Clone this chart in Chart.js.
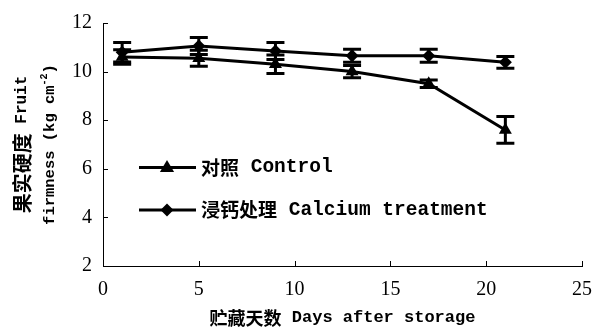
<!DOCTYPE html>
<html>
<head>
<meta charset="utf-8">
<script src="https://cdn.jsdelivr.net/npm/chart.js@4/dist/chart.umd.min.js"></script>
<style>
  html, body { margin: 0; padding: 0; background: #fff; }
  #wrap { width: 604px; height: 327px; position: relative; }
</style>
</head>
<body>
<div id="wrap"><canvas id="c" width="604" height="327"></canvas></div>
<script>
// Storage days at which firmness was measured
const days = [1, 5, 9, 13, 17, 21];

// Fruit firmness (kg cm^-2) and standard errors
const controlFirmness = [10.6, 10.55, 10.3, 10.0, 9.5, 7.6];
const controlError    = [0.3, 0.33, 0.38, 0.25, 0.15, 0.55];
const calciumFirmness = [10.8, 11.05, 10.85, 10.65, 10.65, 10.38];
const calciumError    = [0.4, 0.35, 0.35, 0.27, 0.27, 0.24];

// Axis ticks
const xTicks = [0, 5, 10, 15, 20, 25];
const yTicks = [2, 4, 6, 8, 10, 12];

// Labels
const seriesNames = [
  [{ t: '对照', cjk: true }, { t: ' Control' }],
  [{ t: '浸钙处理', cjk: true }, { t: ' Calcium treatment' }]
];
const xTitle = [{ t: '贮藏天数', cjk: true }, { t: ' Days after storage' }];
const yTitleLine1 = [{ t: '果实硬度', cjk: true }, { t: ' Fruit' }];
const yTitleLine2 = [{ t: 'firmness (kg cm' }, { t: '-2', sup: true }, { t: ')' }];

const INK = '#000000';
const MONO = '"Liberation Mono", "DejaVu Sans Mono", monospace';
const CJK = '"Noto Sans CJK SC", sans-serif';

function toPoints(ys) { return days.map((d, i) => ({ x: d, y: ys[i] })); }

// Draws a sequence of text runs with separate fonts, starting or centred at x
function drawRuns(ctx, runs, x, y, sizes, center) {
  const latW = sizes.latWeight || 'bold';
  const fontOf = r => r.sup ? (latW + ' ' + sizes.sup + 'px ' + MONO)
    : r.cjk ? ((sizes.cjkWeight || 'normal') + ' ' + sizes.cjk + 'px ' + CJK)
    : (latW + ' ' + sizes.lat + 'px ' + MONO);
  let total = 0;
  runs.forEach(r => { ctx.font = fontOf(r); total += ctx.measureText(r.t).width; });
  let cx = center ? x - total / 2 : x;
  ctx.textBaseline = 'middle';
  ctx.textAlign = 'left';
  runs.forEach(r => {
    ctx.font = fontOf(r);
    ctx.fillText(r.t, cx, y + (r.sup ? -6 : 0));
    cx += ctx.measureText(r.t).width;
  });
}

function drawMarker(ctx, style, x, y, r) {
  ctx.beginPath();
  if (style === 'triangle') {
    ctx.moveTo(x, y - r);
    ctx.lineTo(x + r * 0.95, y + r * 0.6);
    ctx.lineTo(x - r * 0.95, y + r * 0.6);
  } else {
    ctx.moveTo(x, y - r);
    ctx.lineTo(x + r, y);
    ctx.lineTo(x, y + r);
    ctx.lineTo(x - r, y);
  }
  ctx.closePath();
  ctx.fill();
}

const errorBars = {
  id: 'errorBars',
  beforeDatasetsDraw(chart) {
    const ctx = chart.ctx;
    const ys = chart.scales.y;
    chart.data.datasets.forEach((ds, di) => {
      const meta = chart.getDatasetMeta(di);
      meta.data.forEach((pt, i) => {
        const v = ds.data[i].y, e = ds.errors[i];
        const top = ys.getPixelForValue(v + e);
        const bot = ys.getPixelForValue(v - e);
        ctx.save();
        ctx.strokeStyle = INK;
        ctx.lineWidth = 3;
        ctx.beginPath();
        ctx.moveTo(pt.x, top); ctx.lineTo(pt.x, bot);
        ctx.moveTo(pt.x - 9, top); ctx.lineTo(pt.x + 9, top);
        ctx.moveTo(pt.x - 9, bot); ctx.lineTo(pt.x + 9, bot);
        ctx.stroke();
        ctx.restore();
      });
    });
  }
};

const decorations = {
  id: 'decorations',
  afterDraw(chart) {
    const ctx = chart.ctx;
    const xs = chart.scales.x, ys = chart.scales.y;
    const area = chart.chartArea;
    ctx.save();
    // inward tick marks
    ctx.strokeStyle = INK;
    ctx.lineWidth = 1;
    ctx.beginPath();
    yTicks.forEach(v => {
      const py = Math.round(ys.getPixelForValue(v)) + 0.5;
      ctx.moveTo(area.left, py); ctx.lineTo(area.left + 5, py);
    });
    xTicks.forEach(v => {
      const px = Math.round(xs.getPixelForValue(v)) + 0.5;
      ctx.moveTo(px, area.bottom); ctx.lineTo(px, area.bottom - 5);
    });
    ctx.stroke();

    ctx.fillStyle = INK;
    // legend inside plot
    const legendStyles = ['triangle', 'rectRot'];
    const legendY = [ys.getPixelForValue(6.05), ys.getPixelForValue(4.3)];
    legendStyles.forEach((s, i) => {
      const ly = legendY[i];
      ctx.lineWidth = 3;
      ctx.beginPath();
      ctx.moveTo(139, ly); ctx.lineTo(196, ly);
      ctx.stroke();
      drawMarker(ctx, s, 167, ly, s === 'triangle' ? 7.5 : 6.5);
      drawRuns(ctx, seriesNames[i], 201, ly, { cjk: 19, lat: 19.5, cjkWeight: 'bold' });
    });

    // axis titles
    drawRuns(ctx, xTitle, (area.left + area.right) / 2, 318, { cjk: 18, lat: 17, cjkWeight: 'bold' }, true);
    const midY = (area.top + area.bottom) / 2;
    ctx.save();
    ctx.translate(22, midY);
    ctx.rotate(-Math.PI / 2);
    drawRuns(ctx, yTitleLine1, 0, 0, { cjk: 20, lat: 16, cjkWeight: 'bold' }, true);
    ctx.restore();
    ctx.save();
    ctx.translate(50, midY);
    ctx.rotate(-Math.PI / 2);
    drawRuns(ctx, yTitleLine2, 0, 0, { cjk: 20, lat: 15.5, sup: 10 }, true);
    ctx.restore();
    ctx.restore();
  }
};

new Chart(document.getElementById('c'), {
  type: 'line',
  data: {
    datasets: [
      {
        label: '对照 Control',
        data: toPoints(controlFirmness),
        errors: controlError,
        borderColor: INK, backgroundColor: INK,
        borderWidth: 3,
        pointStyle: 'triangle', pointRadius: 7.5,
        pointBorderWidth: 0
      },
      {
        label: '浸钙处理 Calcium treatment',
        data: toPoints(calciumFirmness),
        errors: calciumError,
        borderColor: INK, backgroundColor: INK,
        borderWidth: 3,
        pointStyle: 'rectRot', pointRadius: 6.5,
        pointBorderWidth: 0
      }
    ]
  },
  options: {
    responsive: false,
    animation: false,
    devicePixelRatio: 1,
    layout: { padding: { left: 0, right: 18, top: 16, bottom: 0 } },
    plugins: { legend: { display: false }, tooltip: { enabled: false } },
    scales: {
      x: {
        type: 'linear', min: 0, max: 25,
        afterBuildTicks(s) { s.ticks = xTicks.map(v => ({ value: v })); },
        afterFit(s) { s.height = 61; },
        grid: { display: true, drawOnChartArea: false, drawTicks: false },
        border: { display: true, color: INK, width: 1 },
        ticks: { color: INK, padding: 12, font: { family: '"Liberation Serif", serif', size: 20 } }
      },
      y: {
        type: 'linear', min: 2, max: 12,
        afterBuildTicks(s) { s.ticks = yTicks.map(v => ({ value: v })); },
        afterFit(s) { s.width = 103; },
        grid: { display: true, drawOnChartArea: false, drawTicks: false },
        border: { display: true, color: INK, width: 1 },
        ticks: { color: INK, padding: 11, font: { family: '"Liberation Serif", serif', size: 20 } }
      }
    }
  },
  plugins: [errorBars, decorations]
});
</script>
</body>
</html>
